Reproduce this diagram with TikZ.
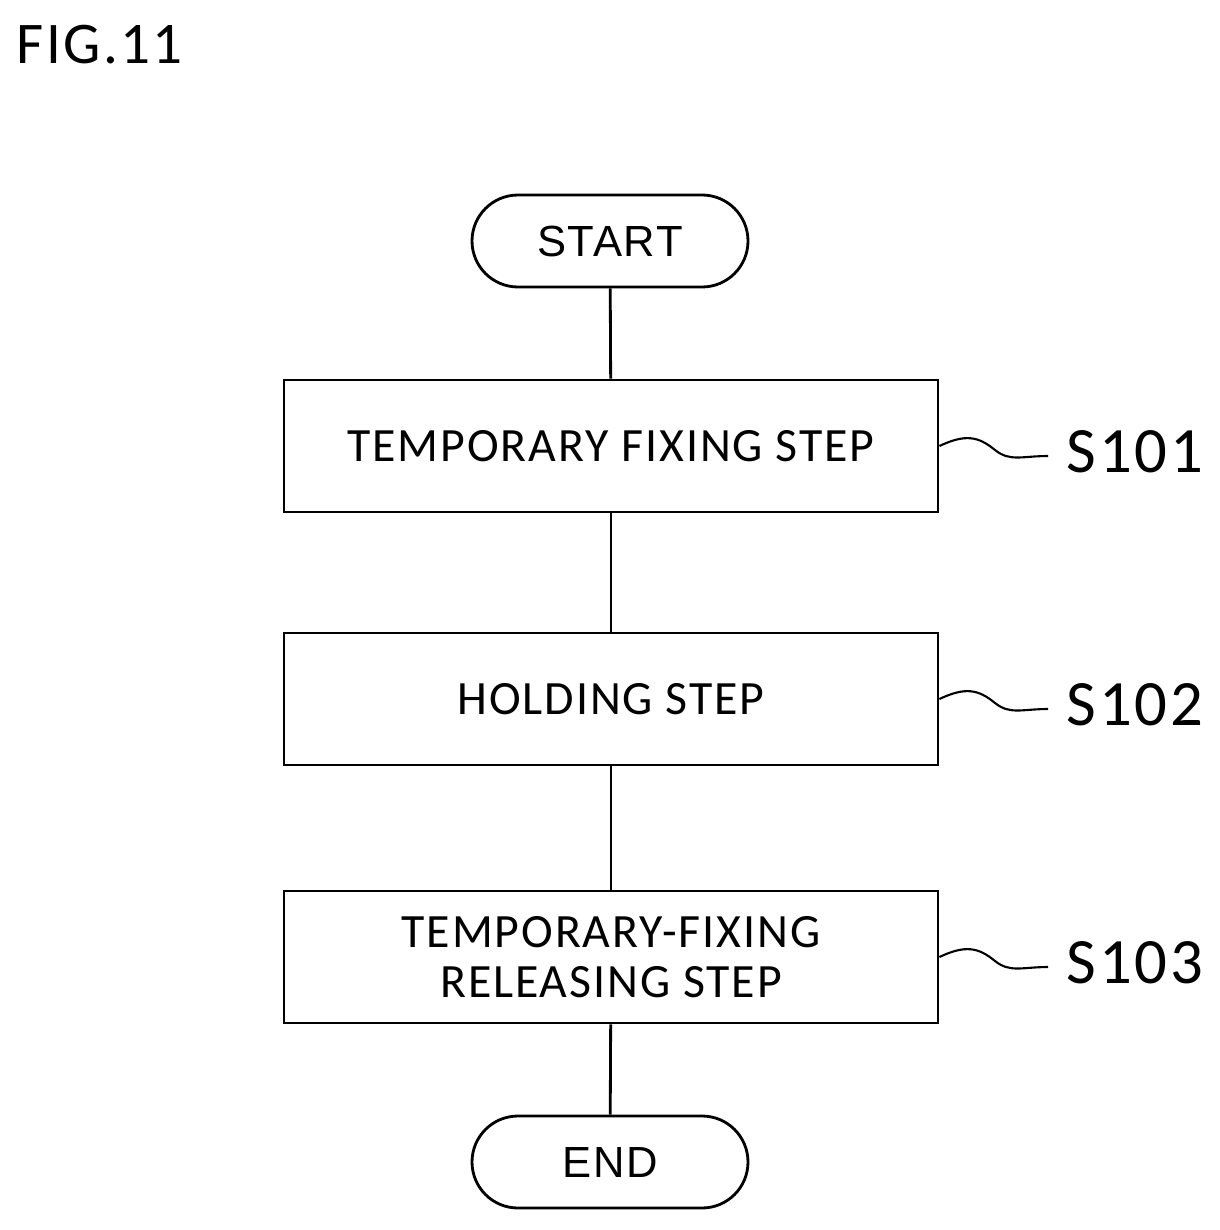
\documentclass[tikz,border=0pt]{standalone}
\usepackage{fontspec}
\setmainfont{Carlito}[LetterSpace=4]
\newfontfamily\arialfont{Liberation Sans}[LetterSpace=4]
\begin{document}
\tikzset{
  procbox/.style={draw,line width=2pt,minimum width=654*0.025cm,minimum height=132*0.025cm,
    align=center,font=\fontsize{34}{40}\selectfont},
  term/.style={draw,line width=2pt,rounded corners=46*0.025cm,minimum width=276*0.025cm,
    minimum height=92*0.025cm,font=\arialfont\fontsize{31}{36}\selectfont},
  tag/.style={anchor=west,font=\fontsize{46}{50}\selectfont},
  link/.style={line width=2pt}
}
\begin{tikzpicture}[x=0.025cm,y=-0.025cm]
  \useasboundingbox (0,0) rectangle (1220,1230);
  \node[anchor=west,font=\fontsize{42}{46}\selectfont] (fig) at (12,45) {FIG.11};
  \node[term] (start) at (610,241) {START};
  \node[procbox] (s1) at (611,446) {TEMPORARY FIXING STEP};
  \node[procbox] (s2) at (611,699) {HOLDING STEP};
  \node[procbox] (s3) at (611,957) {TEMPORARY-FIXING\\[-4pt]RELEASING STEP};
  \node[term] (end) at (610,1162) {END};
  \draw[link] (start) -- (s1);
  \draw[link] (s1) -- (s2);
  \draw[link] (s2) -- (s3);
  \draw[link] (s3) -- (end);
  % step labels with wavy leaders
  \foreach \n/\y/\lab in {s1/446/S101, s2/699/S102, s3/957/S103}{
    \node[tag] (t\n) at (1062,\y+6) {\lab};
    \coordinate (w\n) at (1048,\y+10);
    \draw[line width=1.5pt] (\n.east) .. controls (965,\y-12) and (978,\y-10) .. (995,\y+4)
      .. controls (1010,\y+16) and (1022,\y+10) .. (w\n);
  }
\end{tikzpicture}
\end{document}
